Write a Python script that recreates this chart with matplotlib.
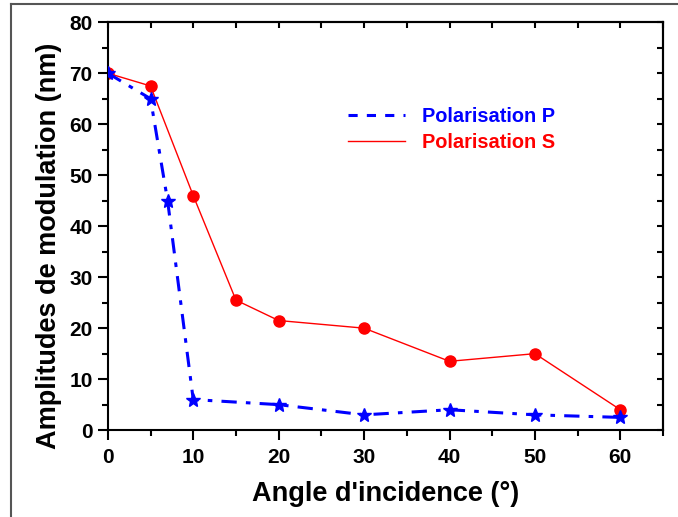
import matplotlib
matplotlib.use("Agg")
import matplotlib.pyplot as plt
from matplotlib.lines import Line2D
from matplotlib.ticker import MultipleLocator

plt.rcParams['font.family'] = ['Liberation Sans', 'DejaVu Sans']
plt.rcParams['font.weight'] = 'bold'

angle_p = [0, 5, 7, 10, 20, 30, 40, 50, 60]
amp_p = [70, 65, 45, 6, 5, 3, 4, 3, 2.5]
angle_s = [0, 5, 10, 15, 20, 30, 40, 50, 60]
amp_s = [70, 67.5, 46, 25.5, 21.5, 20, 13.5, 15, 4]

fig = plt.figure(figsize=(6.78, 5.17), dpi=100)
ax = fig.add_axes([0.159, 0.168, 0.819, 0.789])

ax.plot(angle_s, amp_s, color='red', lw=1, marker='o', ms=8, zorder=2)
ax.plot(angle_p, amp_p, color='blue', lw=2.2, ls=(0, (5, 3, 1.5, 3)),
        marker='*', ms=10, zorder=3)

ax.set_xlim(0, 65)
ax.set_ylim(0, 80)
ax.xaxis.set_major_locator(MultipleLocator(10))
ax.xaxis.set_minor_locator(MultipleLocator(5))
ax.yaxis.set_major_locator(MultipleLocator(10))
ax.yaxis.set_minor_locator(MultipleLocator(5))
ax.tick_params(which='both', direction='out', width=1.5, labelsize=15)
ax.tick_params(which='major', length=7)
ax.tick_params(which='minor', length=4)
ax.tick_params(axis='x', pad=6)
ax.tick_params(axis='y', pad=4)
ax.set_xticks([0, 10, 20, 30, 40, 50, 60])
for lab in ax.get_xticklabels() + ax.get_yticklabels():
    lab.set_fontweight('bold')

# inward ticks on top and right
top = ax.secondary_xaxis('top')
top.set_xticks(range(0, 66, 5))
top.tick_params(direction='in', length=4, width=1.5, labeltop=False)
right = ax.secondary_yaxis('right')
right.set_yticks(range(0, 81, 5))
right.tick_params(direction='in', length=4, width=1.5, labelright=False)
for sp in list(ax.spines.values()) + [top.spines['top'], right.spines['right']]:
    sp.set_linewidth(1.5)

ax.set_xlabel("Angle d'incidence (°)", fontsize=19.5, fontweight='bold', labelpad=10)
ax.set_ylabel("Amplitudes de modulation (nm)", fontsize=19.5, fontweight='bold')
ax.yaxis.set_label_coords(-0.083, 0.453)

handles = [Line2D([], [], color='blue', lw=2.2, ls=(0, (3, 3))),
           Line2D([], [], color='red', lw=1)]
leg = ax.legend(handles, ['Polarisation P', 'Polarisation S'],
                loc='upper left', bbox_to_anchor=(0.40, 0.836), frameon=False,
                fontsize=14.4, handlelength=2.85, handletextpad=0.85,
                labelspacing=0.35)
for txt, c in zip(leg.get_texts(), ['blue', 'red']):
    txt.set_color(c)
    txt.set_fontweight('bold')

# figure frame (left and top edges)
fig.add_artist(Line2D([11 / 678, 11 / 678], [0, 1 - 4 / 517],
                      transform=fig.transFigure, color='#555555', lw=1.5))
fig.add_artist(Line2D([11 / 678, 1], [1 - 4 / 517, 1 - 4 / 517],
                      transform=fig.transFigure, color='#555555', lw=1.5))

fig.savefig('out.png', dpi=100)
